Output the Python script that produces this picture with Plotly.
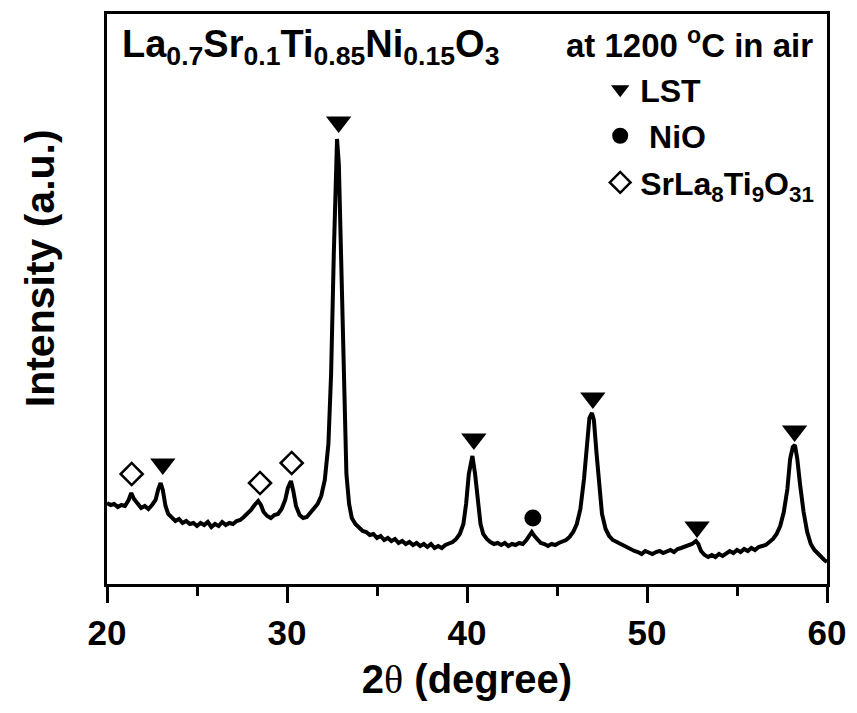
import plotly.graph_objects as go

# XRD pattern (2theta in degrees, intensity in arbitrary units)
two_theta = [
    20.0, 20.2, 20.4, 20.6, 20.8, 21.0, 21.2, 21.35, 21.5, 21.7, 21.9, 22.1, 22.3, 22.5, 22.7, 22.85,
    22.98, 23.1, 23.25, 23.4, 23.6, 23.8, 24.0, 24.2, 24.4, 24.6, 24.8, 25.0, 25.2, 25.4, 25.6, 25.8,
    26.0, 26.2, 26.4, 26.6, 26.8, 27.0, 27.2, 27.4, 27.6, 27.8, 28.0, 28.2, 28.4, 28.55, 28.7, 28.9,
    29.1, 29.3, 29.5, 29.7, 29.9, 30.05, 30.22, 30.35, 30.5, 30.7, 30.9, 31.1, 31.3, 31.5, 31.7, 31.9,
    32.1, 32.3, 32.45, 32.6, 32.7, 32.78, 32.88, 33.0, 33.1, 33.2, 33.3, 33.45, 33.6, 33.8, 34.0, 34.2,
    34.4, 34.6, 34.8, 35.0, 35.2, 35.4, 35.6, 35.8, 36.0, 36.2, 36.4, 36.6, 36.8, 37.0, 37.2, 37.4,
    37.6, 37.8, 38.0, 38.2, 38.4, 38.6, 38.8, 39.0, 39.2, 39.4, 39.6, 39.8, 39.95, 40.1, 40.3, 40.45,
    40.6, 40.75, 40.9, 41.1, 41.3, 41.5, 41.7, 41.9, 42.1, 42.3, 42.5, 42.7, 42.9, 43.1, 43.3, 43.45,
    43.6, 43.75, 43.9, 44.1, 44.3, 44.5, 44.7, 44.9, 45.1, 45.3, 45.5, 45.7, 45.9, 46.1, 46.3, 46.5,
    46.65, 46.8, 46.94, 47.05, 47.2, 47.35, 47.5, 47.7, 47.9, 48.1, 48.3, 48.5, 48.7, 48.9, 49.1, 49.3,
    49.5, 49.7, 49.9, 50.1, 50.3, 50.5, 50.7, 50.9, 51.1, 51.3, 51.5, 51.7, 51.9, 52.1, 52.3, 52.5,
    52.72, 52.85, 53.0, 53.2, 53.4, 53.6, 53.8, 54.0, 54.2, 54.4, 54.6, 54.8, 55.0, 55.2, 55.4, 55.6,
    55.8, 56.0, 56.2, 56.4, 56.6, 56.8, 57.0, 57.2, 57.4, 57.6, 57.8, 57.95, 58.1, 58.22, 58.35, 58.5,
    58.7, 58.9, 59.1, 59.3, 59.5, 59.7, 59.85, 60.0,
]
intensity = [
    81, 79, 80, 77, 79, 78, 84, 91, 85, 80, 76, 78, 75, 79, 84, 95,
    101, 94, 78, 70, 66, 63, 65, 61, 63, 60, 61, 58, 61, 59, 62, 57,
    60, 58, 62, 59, 61, 60, 63, 64, 67, 70, 74, 79, 83, 79, 72, 68,
    66, 69, 70, 75, 84, 96, 103, 93, 78, 69, 66, 67, 71, 76, 80, 88,
    104, 140, 210, 330, 420, 445, 420, 330, 240, 160, 110, 80, 66, 60, 56, 53,
    52, 49, 50, 46, 48, 44, 46, 43, 45, 41, 43, 40, 42, 39, 41, 38,
    40, 37, 40, 36, 38, 36, 39, 40, 42, 45, 50, 60, 80, 110, 128, 110,
    80, 60, 50, 45, 42, 40, 41, 39, 41, 38, 40, 39, 41, 40, 44, 48,
    52, 48, 45, 41, 40, 38, 40, 39, 41, 42, 44, 47, 52, 60, 75, 105,
    140, 166, 171, 164, 130, 95, 70, 55, 48, 44, 42, 40, 38, 36, 35, 33,
    32, 30, 33, 31, 30, 32, 33, 31, 33, 34, 32, 35, 36, 37, 38, 40,
    43, 40, 33, 29, 27, 29, 27, 30, 28, 31, 33, 31, 34, 32, 35, 33,
    36, 34, 37, 38, 39, 42, 45, 50, 58, 72, 95, 125, 137, 139, 125, 100,
    72, 52, 40, 34, 30, 27, 24, 22,
]

# Phase markers (peak positions and marker heights)
lst_x = [23.1, 32.87, 40.38, 46.99, 52.78, 58.2]
lst_y = [120, 462, 145, 186, 57, 153]
nio_x = [43.66]
nio_y = [66]
srla_x = [21.37, 28.5, 30.26]
srla_y = [110, 101, 121]

phase_names = ["LST", " NiO", "SrLa<sub>8</sub>Ti<sub>9</sub>O<sub>31</sub>"]
x_ticks = [20, 30, 40, 50, 60]

FONT = "Liberation Sans, Arial, sans-serif"

fig = go.Figure()
fig.add_trace(go.Scatter(
    x=two_theta, y=intensity, mode="lines",
    line=dict(color="black", width=4), showlegend=False, hoverinfo="skip",
))
fig.add_trace(go.Scatter(
    x=lst_x, y=lst_y, mode="markers", name=phase_names[0], legendgroup="a",
    marker=dict(symbol="triangle-down", size=22, color="black"),
))
fig.add_trace(go.Scatter(
    x=nio_x, y=nio_y, mode="markers", name=phase_names[1], legendgroup="b",
    marker=dict(symbol="circle", size=17, color="black"),
))
fig.add_trace(go.Scatter(
    x=srla_x, y=srla_y, mode="markers", name=phase_names[2], legendgroup="c",
    marker=dict(symbol="diamond-open", size=17, color="black", line=dict(width=2.5, color="black")),
))

fig.update_layout(
    width=857, height=713,
    margin=dict(l=107, r=30, t=14, b=129),
    paper_bgcolor="white", plot_bgcolor="white",
    font=dict(family=FONT, color="black"),
    showlegend=True,
    legend=dict(
        x=0.685, y=0.916, xanchor="left", yanchor="top",
        bgcolor="rgba(0,0,0,0)", borderwidth=0,
        font=dict(family=FONT, size=32, color="black", weight="bold"),
        tracegroupgap=2,
    ),
    xaxis=dict(
        range=[20, 60], tickvals=x_ticks, ticktext=[str(t) for t in x_ticks],
        showgrid=False, zeroline=False,
        showline=True, linecolor="black", linewidth=3, mirror=True,
        ticks="outside", ticklen=16, tickwidth=3, tickcolor="black",
        minor=dict(dtick=5, ticks="outside", ticklen=9, tickwidth=3, tickcolor="black", showgrid=False),
        tickfont=dict(family=FONT, size=35, color="black", weight="bold"),
        title=dict(
            text="<b>2<span style='font-family:Liberation Serif;font-weight:normal'>θ</span> (degree)</b>",
            font=dict(family=FONT, size=40, color="black"), standoff=14,
        ),
    ),
    yaxis=dict(
        range=[0, 570], showticklabels=False, ticks="",
        showgrid=False, zeroline=False,
        showline=True, linecolor="black", linewidth=3, mirror=True,
    ),
    annotations=[
        dict(
            text="<b>Intensity (a.u.)</b>", xref="paper", yref="paper",
            x=-0.093, y=0.554, xanchor="center", yanchor="middle", textangle=-90,
            showarrow=False, font=dict(family=FONT, size=41, color="black"),
        ),
        dict(
            text="<b>La<sub>0.7</sub>Sr<sub>0.1</sub>Ti<sub>0.85</sub>Ni<sub>0.15</sub>O<sub>3</sub></b>",
            xref="paper", yref="paper", x=(120 - 107) / 720, y=(584 - 47) / 570,
            xanchor="left", yanchor="middle", showarrow=False,
            font=dict(family=FONT, size=38, color="black"),
        ),
        dict(
            text="<b>at 1200 <sup>o</sup>C in air</b>",
            xref="paper", yref="paper", x=(815 - 107) / 720, y=(584 - 43) / 570,
            xanchor="right", yanchor="middle", showarrow=False,
            font=dict(family=FONT, size=33, color="black"),
        ),
    ],
)

fig.write_html("out.html")
